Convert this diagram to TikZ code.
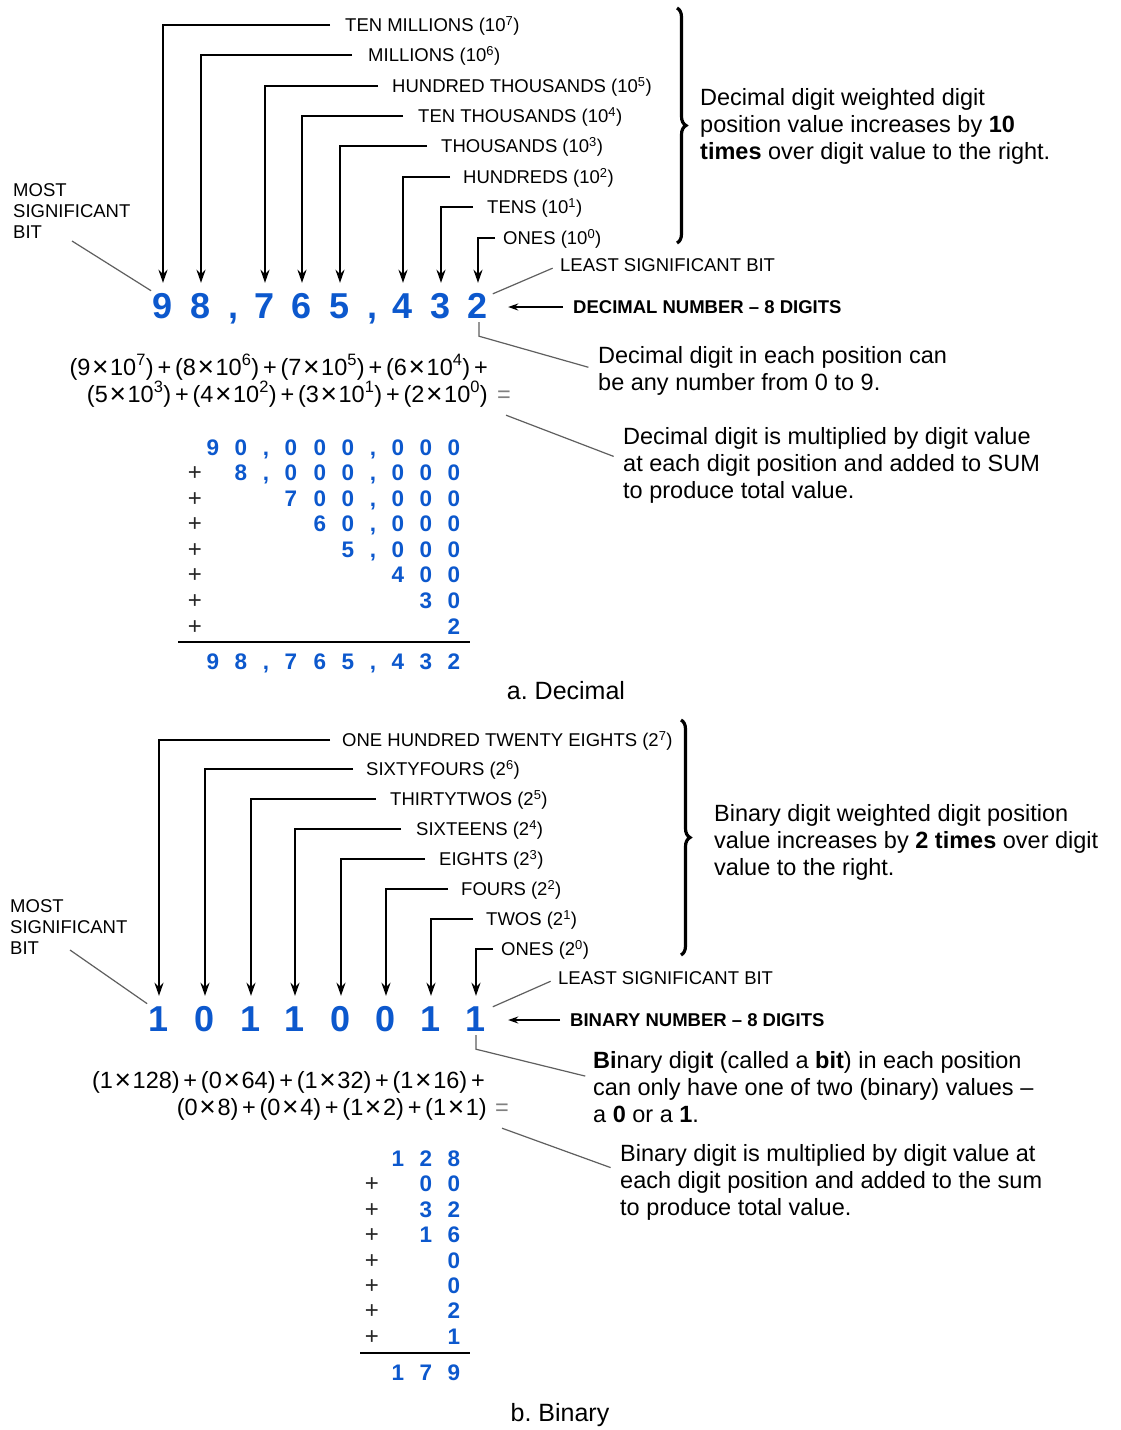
\documentclass[tikz,border=0pt]{standalone}
\usepackage{fontspec}
\setmainfont{Liberation Sans}
\usetikzlibrary{arrows.meta,decorations.pathreplacing}
\definecolor{digitblue}{RGB}{12,88,205}
\definecolor{leader}{RGB}{95,95,95}
\newcommand{\tms}{\hspace{0.07em}\raisebox{-0.07em}{\scalebox{1.2}{×}}\hspace{0.07em}}
\newcommand{\pls}{\hspace{0.16em}+\hspace{0.16em}}
\frenchspacing

\begin{document}
\begin{tikzpicture}[x=1pt,y=-1pt,
  lbl/.style={anchor=west,inner sep=0pt,text height=13pt,text depth=0pt,font=\fontsize{18.5}{18.5}\selectfont},
  caps/.style={anchor=north west,inner sep=0pt,align=left,font=\fontsize{18.5}{21}\selectfont},
  bigdig/.style={inner sep=0pt,text height=26pt,text depth=0pt,text=digitblue,font=\fontsize{36}{36}\selectfont\bfseries},
  sumdig/.style={inner sep=0pt,text height=16pt,text depth=0pt,text=digitblue,font=\fontsize{22.5}{22.5}\selectfont\bfseries},
  plussign/.style={inner sep=0pt,text height=16pt,text depth=0pt,text=black!85,font=\fontsize{24}{24}\selectfont},
  note/.style={anchor=west,inner sep=0pt,align=left,font=\fontsize{23.5}{27}\selectfont},
  eqn/.style={anchor=east,inner sep=0pt,text height=15pt,text depth=5pt,font=\fontsize{23.5}{23.5}\selectfont},
  eqsign/.style={anchor=west,inner sep=0pt,text height=15pt,text depth=5pt,text=black!50,font=\fontsize{23.5}{23.5}\selectfont},
  caption/.style={inner sep=0pt,font=\fontsize{25}{25}\selectfont},
  weight/.style={line width=2pt,-{Stealth[length=13pt,width=9pt]}},
  pointer/.style={line width=1.4pt,-{Stealth[length=10pt,width=7pt]}},
  leaderline/.style={draw=leader,line width=1.2pt},
  bracket/.style={line width=3.2pt,decorate,decoration={brace,amplitude=9pt}},
  sumrule/.style={line width=2.4pt}
]
\useasboundingbox (0,0) rectangle (1121,1430);
\fill[white] (0,0) rectangle (1121,1430);

% ================= a. Decimal =================
% digits of 98,765,432
\foreach \n/\x/\c in {1/163/9,2/201/8,3/265/7,4/302/6,5/340/5,6/403/4,7/441/3,8/478/2}
  \node[bigdig] (d\n) at (\x,305) {\c};
\node[bigdig] (dc1) at (233,305) {,};
\node[bigdig] (dc2) at (372,305) {,};

% place-value labels and their arrows
\foreach \n/\y/\lx/\gap/\t in {
  1/25/345/15/{TEN MILLIONS (10\textsuperscript{7})},
  2/55/368/16/{MILLIONS (10\textsuperscript{6})},
  3/86/392/14/{HUNDRED THOUSANDS (10\textsuperscript{5})},
  4/116/418/15/{TEN THOUSANDS (10\textsuperscript{4})},
  5/146/441/14/{THOUSANDS (10\textsuperscript{3})},
  6/177/463/13/{HUNDREDS (10\textsuperscript{2})},
  7/207/487/14/{TENS (10\textsuperscript{1})},
  8/238/503/8/{ONES (10\textsuperscript{0})}}{
  \node[lbl] (dl\n) at (\lx,\y) {\t};
  \draw[weight,shorten >=9pt] (dl\n.west) ++(-\gap,0) -| (d\n.north);
}

% grouping brace and its note
\draw[bracket] (677,8) -- (677,243);
\node[note] (dn1) at (700,126) {Decimal digit weighted digit\\position value increases by \textbf{10}\\\textbf{times} over digit value to the right.};

% MSB / LSB callouts
\node[caps] (dmsb) at (13,183) {MOST\\SIGNIFICANT\\BIT};
\coordinate (dmsbt) at (72,241);
\draw[leaderline,shorten >=2pt] (dmsbt) -- (d1.north west);
\node[lbl] (dlsb) at (560,265) {LEAST SIGNIFICANT BIT};
\draw[leaderline,shorten <=5pt,shorten >=8pt] (d8.north east) ++(0,4) -- (dlsb.west);
\node[lbl,font=\fontsize{18.5}{18.5}\selectfont\bfseries] (dnum) at (573,307) {DECIMAL NUMBER -- 8 DIGITS};
\draw[pointer,shorten <=10pt,shorten >=20pt] (dnum.west) -- (d8.east |- dnum.west);

% note on digit range
\node[note] (dn2) at (598,371) {Decimal digit in each position can\\be any number from 0 to 9.};
\draw[leaderline,shorten >=10pt] (d8.south) ++(1,4) -- ++(0,14) -- ([yshift=1pt]dn2.west);

% expanded form
\node[eqn] (de1) at (488,370) {(9\tms10\textsuperscript{7})\pls(8\tms10\textsuperscript{6})\pls(7\tms10\textsuperscript{5})\pls(6\tms10\textsuperscript{4})\pls};
\node[eqn] (de2) at (488,397) {(5\tms10\textsuperscript{3})\pls(4\tms10\textsuperscript{2})\pls(3\tms10\textsuperscript{1})\pls(2\tms10\textsuperscript{0})};
\node[eqsign] (deq) at (497,397) {=};
\node[note] (dn3) at (623,465) {Decimal digit is multiplied by digit value\\at each digit position and added to SUM\\to produce total value.};
\draw[leaderline,shorten >=10pt] (deq.south) ++(2,8) -- ([yshift=5pt]dn3.west);

% column addition
\foreach \r/\y/\row in {
  1/447/{213/9,241/0,266/{,},291/0,320/0,348/0,373/{,},398/0,426/0,454/0},
  2/472/{241/8,266/{,},291/0,320/0,348/0,373/{,},398/0,426/0,454/0},
  3/498/{291/7,320/0,348/0,373/{,},398/0,426/0,454/0},
  4/523/{320/6,348/0,373/{,},398/0,426/0,454/0},
  5/549/{348/5,373/{,},398/0,426/0,454/0},
  6/574/{398/4,426/0,454/0},
  7/600/{426/3,454/0},
  8/626/{454/2},
  9/661/{213/9,241/8,266/{,},291/7,320/6,348/5,373/{,},398/4,426/3,454/2}}{
  \foreach \x/\c [count=\k] in \row
    \node[sumdig] (ds\r-\k) at (\x,\y) {\c};
}
\foreach \r/\y in {2/472,3/498,4/523,5/549,6/574,7/600,8/626}
  \node[plussign] (dp\r) at (195,\y) {+};
\draw[sumrule] (178,642) -- (470,642);
\node[caption] (dcap) at (566,691) {a. Decimal};

% ================= b. Binary =================
\foreach \n/\x/\c in {1/159/1,2/205/0,3/251/1,4/295/1,5/341/0,6/386/0,7/431/1,8/476/1}
  \node[bigdig] (b\n) at (\x,1018) {\c};

\foreach \n/\y/\lx/\gap/\t in {
  1/740/342/12/{ONE HUNDRED TWENTY EIGHTS (2\textsuperscript{7})},
  2/769/366/13/{SIXTYFOURS (2\textsuperscript{6})},
  3/799/390/14/{THIRTYTWOS (2\textsuperscript{5})},
  4/829/416/15/{SIXTEENS (2\textsuperscript{4})},
  5/859/439/14/{EIGHTS (2\textsuperscript{3})},
  6/889/461/13/{FOURS (2\textsuperscript{2})},
  7/919/486/13/{TWOS (2\textsuperscript{1})},
  8/949/501/8/{ONES (2\textsuperscript{0})}}{
  \node[lbl] (bl\n) at (\lx,\y) {\t};
  \draw[weight,shorten >=9pt] (bl\n.west) ++(-\gap,0) -| (b\n.north);
}

\draw[bracket] (681,720) -- (681,955);
\node[note] (bn1) at (714,842) {Binary digit weighted digit position\\value increases by \textbf{2 times} over digit\\value to the right.};

\node[caps] (bmsb) at (10,899) {MOST\\SIGNIFICANT\\BIT};
\coordinate (bmsbt) at (70,950);
\draw[leaderline,shorten >=2pt] (bmsbt) -- (b1.north west);
\node[lbl] (blsb) at (558,978) {LEAST SIGNIFICANT BIT};
\draw[leaderline,shorten <=5pt,shorten >=8pt] (b8.north east) ++(2,4) -- (blsb.west);
\node[lbl,font=\fontsize{18.5}{18.5}\selectfont\bfseries] (bnum) at (570,1020) {BINARY NUMBER -- 8 DIGITS};
\draw[pointer,shorten <=10pt,shorten >=22pt] (bnum.west) -- (b8.east |- bnum.west);

\node[note] (bn2) at (593,1087) {\textbf{Bi}nary digi\textbf{t} (called a \textbf{bit}) in each position\\can only have one of two (binary) values --\\a \textbf{0} or a \textbf{1}.};
\draw[leaderline,shorten >=8pt] (b8.south) ++(0,4) -- ++(0,14) -- ([yshift=9pt]bn2.west);

\node[eqn] (be1) at (485,1083) {(1\tms128)\pls(0\tms64)\pls(1\tms32)\pls(1\tms16)\pls};
\node[eqn] (be2) at (487,1110) {(0\tms8)\pls(0\tms4)\pls(1\tms2)\pls(1\tms1)};
\node[eqsign] (beq) at (495,1110) {=};
\node[note] (bn3) at (620,1182) {Binary digit is multiplied by digit value at\\each digit position and added to the sum\\to produce total value.};
\draw[leaderline,shorten >=10pt] (beq.south) ++(0,8) -- ([yshift=11pt]bn3.west);

\foreach \r/\y/\row in {
  1/1158/{398/1,426/2,454/8},
  2/1183/{426/0,454/0},
  3/1209/{426/3,454/2},
  4/1234/{426/1,454/6},
  5/1260/{454/0},
  6/1285/{454/0},
  7/1310/{454/2},
  8/1336/{454/1},
  9/1372/{398/1,426/7,454/9}}{
  \foreach \x/\c [count=\k] in \row
    \node[sumdig] (bs\r-\k) at (\x,\y) {\c};
}
\foreach \r/\y in {2/1183,3/1209,4/1234,5/1260,6/1285,7/1310,8/1336}
  \node[plussign] (bp\r) at (372,\y) {+};
\draw[sumrule] (360,1353) -- (470,1353);
\node[caption] (bcap) at (560,1415) {b. Binary};
\end{tikzpicture}
\end{document}
